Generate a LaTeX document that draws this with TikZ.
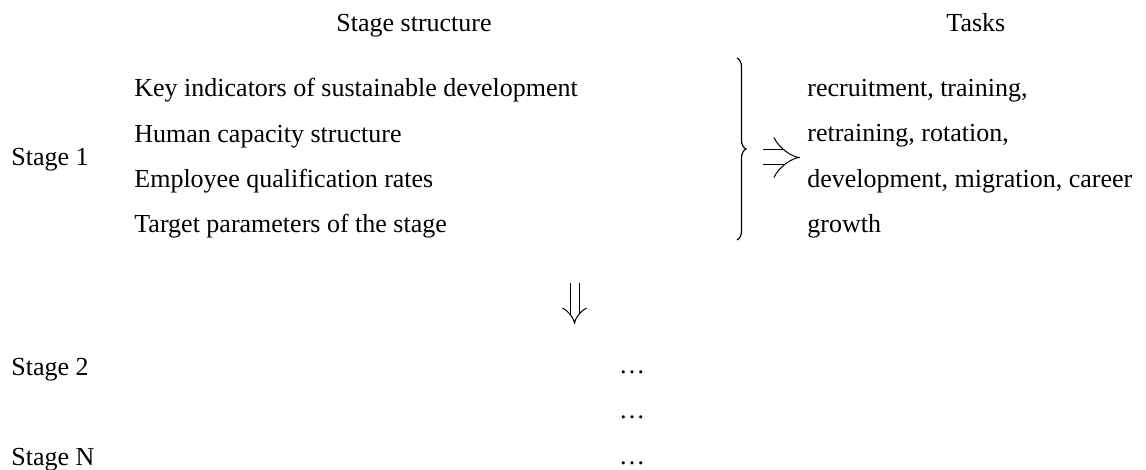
\documentclass[tikz,border=0pt]{standalone}
\usepackage{fontspec}
\setmainfont{Liberation Serif}
\usetikzlibrary{arrows.meta,decorations.pathreplacing}
\begin{document}
\begin{tikzpicture}[x=0.5pt,y=-0.5pt]
  \tikzstyle{txt}=[anchor=base west,inner sep=0pt,font=\fontsize{13}{15}\selectfont]
  \tikzstyle{impl}=[draw,double,line width=0.5pt,-{Implies}]
  \useasboundingbox (0,0) rectangle (1146,470);

  % headings
  \node [txt] (hstage) at (336,32) {Stage structure};
  \node [txt] (htasks) at (946,32) {Tasks};

  % stage 1
  \node [txt] (s1) at (11,166) {Stage 1};
  \node [txt] (ind1) at (134,97) {Key indicators of sustainable development};
  \node [txt] (ind2) at (134,143) {Human capacity structure};
  \node [txt] (ind3) at (134,188) {Employee qualification rates};
  \node [txt] (ind4) at (134,233) {Target parameters of the stage};

  \draw [decorate,decoration={brace,amplitude=4.5pt},line width=0.6pt] (737,58) -- (737,240);

  \node [txt] (t1) at (807,97) {recruitment, training,};
  \node [txt] (t2) at (807,142) {retraining, rotation,};
  \node [txt] (t3) at (807,188) {development, migration, career};
  \node [txt] (t4) at (807,233) {growth};

  \coordinate (ra) at (763,157.5);
  \coordinate (rb) at (800,157.5);
  \path [impl,double distance=7pt] (ra) -- (rb);

  \coordinate (da) at (574.5,283);
  \coordinate (db) at (574.5,324);
  \path [impl,double distance=4pt] (da) -- (db);

  % later stages
  \node [txt] (s2) at (11,375) {Stage 2};
  \node [txt] (sn) at (11,465) {Stage N};
  \node [txt,anchor=base] (dots1) at (632,373) {…};
  \node [txt,anchor=base] (dots2) at (632,418) {…};
  \node [txt,anchor=base] (dots3) at (632,464) {…};
\end{tikzpicture}
\end{document}
